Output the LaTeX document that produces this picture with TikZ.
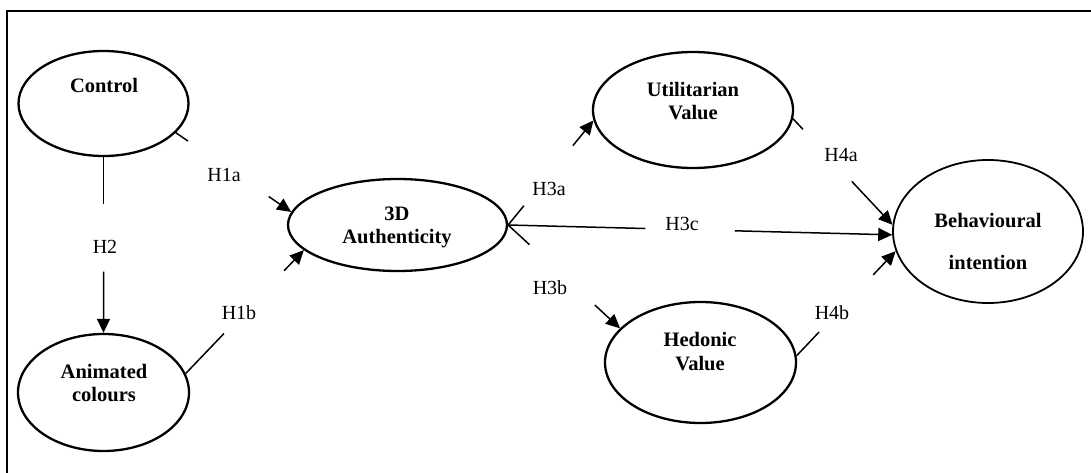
\documentclass[tikz,border=0pt]{standalone}
\usepackage{fontspec}
\setmainfont{Liberation Serif}
\usetikzlibrary{shapes.geometric,arrows.meta,calc}
\tikzset{
  latent/.style={ellipse, draw, line width=2.3pt, inner sep=0pt},
  nm/.style={font=\bfseries\fontsize{20.5}{24}\selectfont, anchor=base, inner sep=0pt},
  hl/.style={font=\fontsize{20}{24}\selectfont, anchor=base, inner sep=0pt},
  conn/.style={line width=1.5pt},
  arr/.style={line width=1.5pt, -{Triangle[length=14pt,width=13pt]}},
  frame/.style={line width=2pt}
}
\begin{document}
\begin{tikzpicture}[x=1pt,y=-1pt]
\useasboundingbox (0,0) rectangle (1091,473);
\draw[frame] (1091,11) -- (7,11) -- (7,473);

% ellipses
\node[latent, minimum width=170pt, minimum height=105pt] (ctrl) at (103.5,103.5) {};
\node[latent, minimum width=171pt, minimum height=117pt] (anim) at (103.5,392.5) {};
\node[latent, minimum width=219pt, minimum height=92pt] (auth) at (397.5,225) {};
\node[latent, minimum width=200pt, minimum height=116pt] (util) at (693,110) {};
\node[latent, minimum width=191pt, minimum height=121pt] (hed) at (700.5,362.5) {};
\node[latent, line width=1.8pt, minimum width=190pt, minimum height=143pt] (beh) at (988,231.5) {};

% ellipse texts
\node[nm] (ctrl-t) at (104,93) {Control};
\node[nm] (anim-t1) at (104,378) {Animated};
\node[nm] (anim-t2) at (104,401) {colours};
\node[nm] (auth-t1) at (397,220) {3D};
\node[nm] (auth-t2) at (397,243) {Authenticity};
\node[nm] (util-t1) at (693,97) {Utilitarian};
\node[nm] (util-t2) at (693,120) {Value};
\node[nm] (hed-t1) at (700,346) {Hedonic};
\node[nm] (hed-t2) at (700,370) {Value};
\node[nm] (beh-t1) at (988,227) {Behavioural};
\node[nm] (beh-t2) at (988,269) {intention};

% hypothesis labels
\node[hl] (h1a) at (224,182) {H1a};
\node[hl] (h2) at (105,253) {H2};
\node[hl] (h1b) at (239,319) {H1b};
\node[hl] (h3a) at (549,195) {H3a};
\node[hl] (h3c) at (682,230) {H3c};
\node[hl] (h3b) at (550,294) {H3b};
\node[hl] (h4a) at (841,161) {H4a};
\node[hl] (h4b) at (832,319) {H4b};

% H1a
\draw[conn] (ctrl.-22.4) -- ($(ctrl.-22.4)!0.106!(auth.173.7)$);
\draw[arr] ($(ctrl.-22.4)!0.805!(auth.173.7)$) -- (auth.173.7);
% H2
\draw[conn] (ctrl.south) -- ($(ctrl.south)!0.264!(anim.north)$);
\draw[arr] ($(ctrl.south)!0.652!(anim.north)$) -- (anim.north);
% H1b
\draw[conn] (anim.13.5) -- ($(anim.13.5)!0.324!(auth.195)$);
\draw[arr] ($(anim.13.5)!0.833!(auth.195)$) -- (auth.195);
% H3a
\draw[conn] (auth.east) -- ($(auth.east)!0.184!(util.186.9)$);
\draw[arr] ($(auth.east)!0.759!(util.186.9)$) -- (util.186.9);
% H3b
\draw[conn] (auth.east) -- ($(auth.east)!0.19!(hed.157.9)$);
\draw[arr] ($(auth.east)!0.775!(hed.157.9)$) -- (hed.157.9);
% H3c
\draw[conn] (auth.east) -- ($(auth.east)!0.357!(beh.182.1)$);
\draw[arr] ($(auth.east)!0.59!(beh.182.1)$) -- (beh.182.1);
% H4a
\draw[conn] (util.-5.6) -- ($(util.-5.6)!0.10!(beh.176.1)$);
\draw[arr] ($(util.-5.6)!0.59!(beh.176.1)$) -- (beh.176.1);
% H4b
\draw[conn] (hed.4.5) -- ($(hed.4.5)!0.227!(beh.192.8)$);
\draw[arr] ($(hed.4.5)!0.773!(beh.192.8)$) -- (beh.192.8);
\end{tikzpicture}
\end{document}
